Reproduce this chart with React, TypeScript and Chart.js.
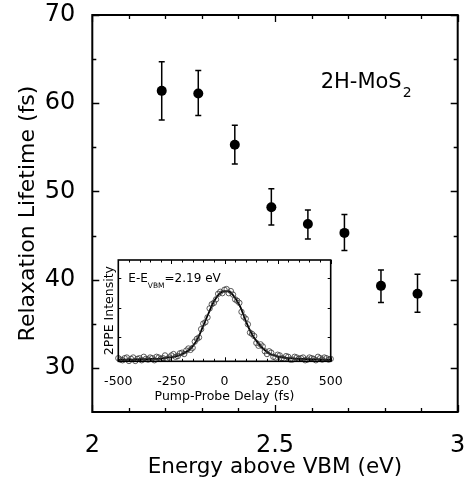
import React, { useEffect, useRef } from 'react';
import { Chart, registerables } from 'chart.js';
Chart.register(...registerables);

// ---- main panel data ----
const energies = [2.19, 2.29, 2.39, 2.49, 2.59, 2.69, 2.79, 2.89];
const lifetimes = [61.4, 61.1, 55.3, 48.2, 46.3, 45.3, 39.3, 38.4];
const errLow = [58.1, 58.6, 53.1, 46.2, 44.6, 43.3, 37.4, 36.3];
const errHigh = [64.7, 63.7, 57.5, 50.3, 47.9, 47.4, 41.1, 40.6];

const xTickValues = [2, 2.5, 3];
const xMinorTicks = [2.1, 2.2, 2.3, 2.4, 2.6, 2.7, 2.8, 2.9];
const yTickValues = [30, 40, 50, 60, 70];
const yMinorTicks = [35, 45, 55, 65];

// ---- inset data ----
const fitDelay = [-500, -475, -450, -425, -400, -375, -350, -325, -300, -275, -250, -225, -200, -175, -150, -125, -100, -75, -50, -25, 0, 25, 50, 75, 100, 125, 150, 175, 200, 225, 250, 275, 300, 325, 350, 375, 400, 425, 450, 475, 500];
const fitIntensity = [0.01, 0.01, 0.01, 0.01, 0.015, 0.015, 0.02, 0.02, 0.025, 0.035, 0.045, 0.06, 0.09, 0.13, 0.2, 0.32, 0.5, 0.68, 0.85, 0.96, 1.0, 0.99, 0.9, 0.77, 0.57, 0.4, 0.28, 0.19, 0.12, 0.08, 0.055, 0.04, 0.03, 0.025, 0.02, 0.018, 0.015, 0.013, 0.012, 0.01, 0.01];
const dataDelay = [-500, -490, -480, -470, -460, -450, -440, -430, -420, -410, -400, -390, -380, -370, -360, -350, -340, -330, -320, -310, -300, -290, -280, -270, -260, -250, -240, -230, -220, -210, -200, -190, -180, -170, -160, -150, -140, -130, -120, -110, -100, -90, -80, -70, -60, -50, -40, -30, -20, -10, 0, 10, 20, 30, 40, 50, 60, 70, 80, 90, 100, 110, 120, 130, 140, 150, 160, 170, 180, 190, 200, 210, 220, 230, 240, 250, 260, 270, 280, 290, 300, 310, 320, 330, 340, 350, 360, 370, 380, 390, 400, 410, 420, 430, 440, 450, 460, 470, 480, 490, 500];
const dataIntensity = [0.03, 0.01, 0.0, 0.03, 0.04, -0.01, 0.02, 0.04, -0.01, 0.02, 0.03, 0.0, 0.05, 0.02, 0.01, 0.04, 0.03, 0.0, 0.05, 0.04, 0.02, 0.03, 0.07, 0.02, 0.04, 0.07, 0.09, 0.05, 0.06, 0.1, 0.11, 0.09, 0.14, 0.17, 0.15, 0.18, 0.27, 0.31, 0.33, 0.45, 0.53, 0.55, 0.62, 0.75, 0.81, 0.83, 0.88, 0.96, 0.99, 0.97, 1.02, 1.03, 0.97, 1.0, 0.95, 0.88, 0.86, 0.83, 0.7, 0.63, 0.6, 0.52, 0.4, 0.38, 0.35, 0.25, 0.21, 0.23, 0.2, 0.13, 0.09, 0.13, 0.11, 0.05, 0.04, 0.08, 0.07, 0.03, 0.02, 0.06, 0.05, 0.01, 0.01, 0.05, 0.04, 0.02, 0.03, 0.04, 0.0, 0.01, 0.04, 0.03, 0.02, 0.0, 0.05, 0.03, 0.01, 0.04, 0.03, 0.01, 0.02];
const insetXTickValues = [-500, -250, 0, 250, 500];
const insetXMinorTicks = [-450, -400, -350, -300, -200, -150, -100, -50, 50, 100, 150, 200, 300, 350, 400, 450];
const insetYTicks = [0.34, 0.76, 1.19];

const FONT = "'DejaVu Sans', sans-serif";

const noPad = (s: any) => { s.paddingTop = 0; s.paddingBottom = 0; s.paddingLeft = 0; s.paddingRight = 0; };

const mainPlugin = {
  id: 'mainDeco',
  beforeDatasetsDraw(chart: any) {
    const ctx = chart.ctx;
    const xs = chart.scales.x, ys = chart.scales.y;
    ctx.save();
    ctx.strokeStyle = '#000';
    ctx.lineWidth = 1.5;
    energies.forEach((e, i) => {
      const px = xs.getPixelForValue(e);
      const y1 = ys.getPixelForValue(errLow[i]);
      const y2 = ys.getPixelForValue(errHigh[i]);
      ctx.beginPath();
      ctx.moveTo(px, y1); ctx.lineTo(px, y2);
      ctx.moveTo(px - 3, y1); ctx.lineTo(px + 3, y1);
      ctx.moveTo(px - 3, y2); ctx.lineTo(px + 3, y2);
      ctx.stroke();
    });
    ctx.restore();
  },
  afterDraw(chart: any) {
    const ctx = chart.ctx;
    const xs = chart.scales.x, ys = chart.scales.y;
    const { left, right, top, bottom } = chart.chartArea;
    ctx.save();
    ctx.strokeStyle = '#000';
    ctx.lineWidth = 1.3;
    const tick = (vals: number[], len: number, horiz: boolean) => {
      vals.forEach(v => {
        ctx.beginPath();
        if (horiz) {
          const p = Math.round(xs.getPixelForValue(v)) + 0.5;
          ctx.moveTo(p, bottom); ctx.lineTo(p, bottom - len);
          ctx.moveTo(p, top); ctx.lineTo(p, top + len);
        } else {
          const p = Math.round(ys.getPixelForValue(v)) + 0.5;
          ctx.moveTo(left, p); ctx.lineTo(left + len, p);
          ctx.moveTo(right, p); ctx.lineTo(right - len, p);
        }
        ctx.stroke();
      });
    };
    tick(xTickValues, 7, true);
    tick(xMinorTicks, 4, true);
    tick(yTickValues, 7, false);
    tick(yMinorTicks, 4, false);
    ctx.lineWidth = 2;
    ctx.strokeRect(left, top, right - left, bottom - top);
    // label
    ctx.fillStyle = '#000';
    ctx.textBaseline = 'alphabetic';
    ctx.textAlign = 'left';
    const lx = xs.getPixelForValue(2.625);
    const ly = ys.getPixelForValue(61.7);
    ctx.font = `21px ${FONT}`;
    ctx.fillText('2H-MoS', lx, ly);
    const w = ctx.measureText('2H-MoS').width;
    ctx.font = `14px ${FONT}`;
    ctx.fillText('2', lx + w + 1, ly + 9);
    ctx.restore();
  },
};

const insetPlugin = {
  id: 'insetDeco',
  beforeDatasetsDraw(chart: any) {
    const ctx = chart.ctx;
    const { left, right, top, bottom } = chart.chartArea;
    ctx.save();
    ctx.fillStyle = '#fff';
    ctx.fillRect(left, top, right - left, bottom - top);
    ctx.restore();
  },
  afterDraw(chart: any) {
    const ctx = chart.ctx;
    const xs = chart.scales.x, ys = chart.scales.y;
    const { left, right, top, bottom } = chart.chartArea;
    ctx.save();
    ctx.strokeStyle = '#000';
    ctx.lineWidth = 1;
    const drawX = (vals: number[], len: number) => vals.forEach(v => {
      const p = Math.round(xs.getPixelForValue(v)) + 0.5;
      ctx.beginPath();
      ctx.moveTo(p, bottom); ctx.lineTo(p, bottom - len);
      ctx.moveTo(p, top); ctx.lineTo(p, top + len);
      ctx.stroke();
    });
    drawX(insetXTickValues, 4);
    drawX(insetXMinorTicks, 2.5);
    insetYTicks.forEach(v => {
      const p = Math.round(ys.getPixelForValue(v)) + 0.5;
      ctx.beginPath();
      ctx.moveTo(left, p); ctx.lineTo(left + 3, p);
      ctx.moveTo(right, p); ctx.lineTo(right - 3, p);
      ctx.stroke();
    });
    ctx.lineWidth = 1.6;
    ctx.strokeRect(left, top, right - left, bottom - top);
    ctx.fillStyle = '#000';
    ctx.textAlign = 'left';
    ctx.textBaseline = 'alphabetic';
    const tx = left + 10, ty = top + 22;
    ctx.font = `12px ${FONT}`;
    ctx.fillText('E-E', tx, ty);
    let w = ctx.measureText('E-E').width;
    ctx.font = `7.5px ${FONT}`;
    ctx.fillText('VBM', tx + w, ty + 6);
    w += ctx.measureText('VBM').width;
    ctx.font = `12px ${FONT}`;
    ctx.fillText('=2.19 eV', tx + w, ty);
    ctx.restore();
  },
};

export default function App() {
  const mainRef = useRef<HTMLCanvasElement>(null);
  const insetRef = useRef<HTMLCanvasElement>(null);

  useEffect(() => {
    const main = new Chart(mainRef.current as HTMLCanvasElement, {
      type: 'scatter',
      data: {
        datasets: [{
          data: energies.map((e, i) => ({ x: e, y: lifetimes[i] })),
          pointRadius: 5,
          pointHoverRadius: 5,
          backgroundColor: '#000',
          borderColor: '#000',
          borderWidth: 0,
        }],
      },
      options: {
        responsive: false,
        animation: false,
        events: [],
        layout: { padding: { top: 15, right: 8.3, left: 0, bottom: 0 } },
        plugins: { legend: { display: false }, tooltip: { enabled: false } },
        scales: {
          x: {
            type: 'linear', min: 2, max: 3,
            afterBuildTicks: (s: any) => { s.ticks = xTickValues.map(v => ({ value: v })); },
            afterFit: (s: any) => { s.height = 73; noPad(s); },
            grid: { display: false }, border: { display: false },
            ticks: { font: { family: FONT, size: 24 }, color: '#000', padding: 11, maxRotation: 0, callback: (v: any) => String(v) },
            title: { display: true, text: 'Energy above VBM (eV)', color: '#000', font: { family: FONT, size: 21.5 }, padding: { top: 0, bottom: 5 } },
          },
          y: {
            type: 'linear', min: 25, max: 70,
            afterBuildTicks: (s: any) => { s.ticks = yTickValues.map(v => ({ value: v })); },
            afterFit: (s: any) => { s.width = 92.3; noPad(s); },
            grid: { display: false }, border: { display: false },
            ticks: { font: { family: FONT, size: 24 }, color: '#000', padding: 9, callback: (v: any) => String(v) },
            title: { display: true, text: 'Relaxation Lifetime (fs)', color: '#000', font: { family: FONT, size: 22 }, padding: { top: 15, bottom: 0 } },
          },
        },
      },
      plugins: [mainPlugin],
    } as any);

    const inset = new Chart(insetRef.current as HTMLCanvasElement, {
      type: 'scatter',
      data: {
        datasets: [
          {
            data: dataDelay.map((d, i) => ({ x: d, y: dataIntensity[i] })),
            pointRadius: 2.7,
            pointStyle: 'circle',
            backgroundColor: 'rgba(0,0,0,0)',
            borderColor: '#333',
            borderWidth: 0.8,
          },
          {
            data: fitDelay.map((d, i) => ({ x: d, y: fitIntensity[i] })),
            showLine: true,
            pointRadius: 0,
            borderColor: '#000',
            borderWidth: 1.8,
            cubicInterpolationMode: 'monotone',
          },
        ],
      },
      options: {
        responsive: false,
        animation: false,
        events: [],
        clip: false,
        layout: { padding: { top: 8, right: 19.3, left: 0, bottom: 0 } },
        plugins: { legend: { display: false }, tooltip: { enabled: false } },
        scales: {
          x: {
            type: 'linear', min: -500, max: 500,
            afterBuildTicks: (s: any) => { s.ticks = insetXTickValues.map(v => ({ value: v })); },
            afterFit: (s: any) => { s.height = 42.7; noPad(s); },
            grid: { display: false }, border: { display: false },
            ticks: { font: { family: FONT, size: 12.5 }, color: '#000', padding: 5, maxRotation: 0, callback: (v: any) => String(v) },
            title: { display: true, text: 'Pump-Probe Delay (fs)', color: '#000', font: { family: FONT, size: 12.5 }, padding: { top: 0, bottom: 0 } },
          },
          y: {
            type: 'linear', min: -0.015, max: 1.45,
            afterFit: (s: any) => { s.width = 18.3; noPad(s); },
            grid: { display: false }, border: { display: false },
            ticks: { display: false },
            title: { display: true, text: '2PPE Intensity', color: '#000', font: { family: FONT, size: 12.5 }, padding: { top: 2.5, bottom: 0 } },
          },
        },
      },
      plugins: [insetPlugin],
    } as any);

    return () => { main.destroy(); inset.destroy(); };
  }, []);

  return (
    <div style={{ position: 'fixed', left: 0, top: 0, width: 466, height: 485, background: '#fff' }}>
      <canvas ref={mainRef} width={466} height={485} style={{ position: 'absolute', left: 0, top: 0, width: 466, height: 485 }} />
      <canvas ref={insetRef} width={250} height={152} style={{ position: 'absolute', left: 100, top: 252, width: 250, height: 152 }} />
    </div>
  );
}
